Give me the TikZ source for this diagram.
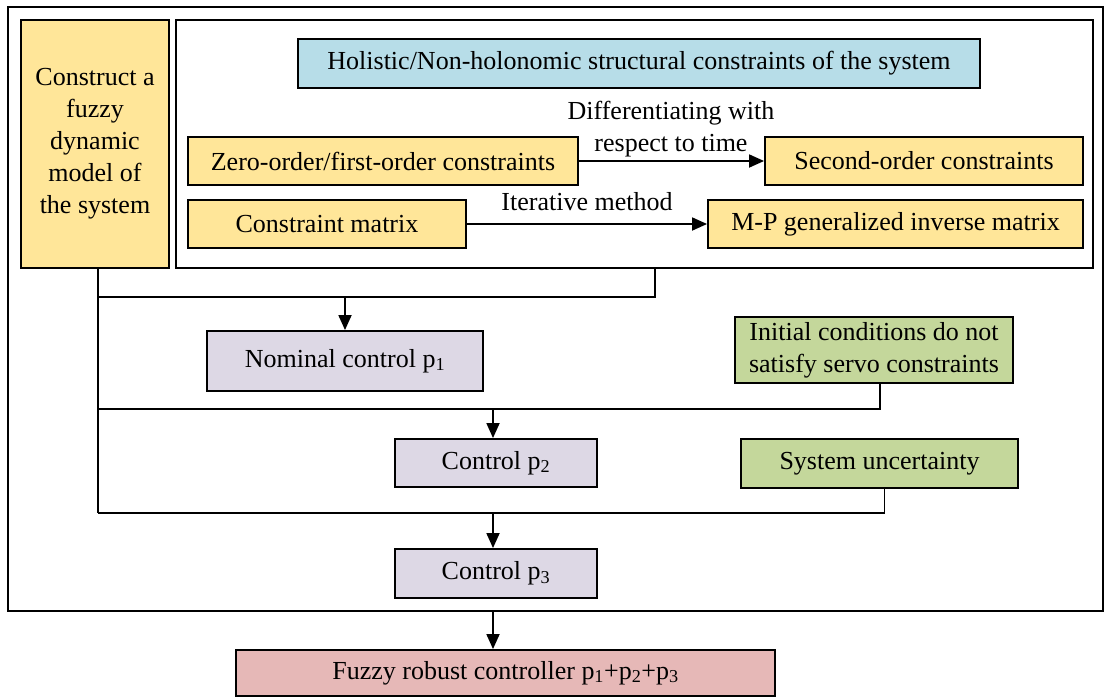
\documentclass[tikz,border=0pt]{standalone}
\usepackage{fontspec}
\setmainfont{Liberation Serif}
\usetikzlibrary{arrows.meta,positioning,calc}
\definecolor{modelcolor}{RGB}{255,230,153}
\definecolor{holocolor}{RGB}{183,221,232}
\definecolor{ctrlcolor}{RGB}{221,216,229}
\definecolor{condcolor}{RGB}{196,215,155}
\definecolor{resultcolor}{RGB}{230,184,183}

\begin{document}
\begin{tikzpicture}[x=1pt,y=-1pt,
    font=\fontsize{26}{32}\selectfont,
    box/.style={draw,line width=1.9pt,inner sep=0pt,align=center},
    frame/.style={draw,line width=2.2pt,inner sep=0pt},
    link/.style={line width=1.8pt},
    arr/.style={link,-{Triangle[length=15pt,width=13pt]}}]
    \useasboundingbox (0,0) rectangle (1105,696);

    % Frames
    \node[frame,minimum width=1095,minimum height=604] (outer) at (555.5,309) {};
    \node[frame,minimum width=917,minimum height=248] (inner) at (634.5,144) {};

    % Model and constraints
    \node[box,fill=modelcolor,minimum width=148,minimum height=248] (model) at (95,144)
        {Construct a\\fuzzy\\dynamic\\model of\\the system};
    \node[box,fill=holocolor,minimum width=682,minimum height=49] (holo) at (639,63.5)
        {Holistic/Non-holonomic structural constraints of the system};
    \node[box,fill=modelcolor,minimum width=390,minimum height=48] (zero) at (383,161)
        {Zero-order/first-order constraints};
    \node[box,fill=modelcolor,minimum width=318,minimum height=48] (second) at (924,161)
        {Second-order constraints};
    \node[box,fill=modelcolor,minimum width=278,minimum height=48] (cmat) at (327,224)
        {Constraint matrix};
    \node[box,fill=modelcolor,minimum width=375,minimum height=48] (mp) at (895.5,224)
        {M-P generalized inverse matrix};
    \node[align=center] (difflbl) at (671,129) {Differentiating with\\respect to time};
    \node (iterlbl) at (587,202) {Iterative method};
    \draw[arr] (zero) -- (second);
    \draw[arr] (cmat) -- (mp);

    % Control parts
    \node[box,fill=ctrlcolor,minimum width=276,minimum height=60] (nominal) at (345,361)
        {Nominal control p\textsubscript{1}};
    \node[box,fill=condcolor,minimum width=278,minimum height=66] (init) at (874,350)
        {Initial conditions do not\\satisfy servo constraints};
    \node[box,fill=ctrlcolor,minimum width=202,minimum height=48] (ctrltwo) at (496,463)
        {Control p\textsubscript{2}};
    \node[box,fill=condcolor,minimum width=277,minimum height=49] (uncert) at (879.5,463.5)
        {System uncertainty};
    \node[box,fill=ctrlcolor,minimum width=202,minimum height=49] (ctrlthree) at (496,573.5)
        {Control p\textsubscript{3}};
    \node[box,fill=resultcolor,minimum width=539,minimum height=46] (result) at (505.5,673)
        {Fuzzy robust controller p\textsubscript{1}+p\textsubscript{2}+p\textsubscript{3}};

    % Bus lines
    \coordinate (busone) at (98,297);
    \coordinate (bustwo) at (98,409);
    \coordinate (busthree) at (98,513);
    \coordinate (tap) at (655,268);
    \draw[link] ([xshift=3]model.south) -- (busthree);
    \draw[link] (busone) -| (tap);
    \draw[link] (bustwo) -| ([xshift=6]init.south);
    \draw[link] (busthree) -| ([xshift=5]uncert.south);
    \draw[arr] (nominal.north |- busone) -- (nominal.north);
    \draw[arr] ([xshift=-3]ctrltwo.north |- bustwo) -- ([xshift=-3]ctrltwo.north);
    \draw[arr] ([xshift=-3]ctrlthree.north |- busthree) -- ([xshift=-3]ctrlthree.north);
    \draw[arr] ([xshift=-3]ctrlthree.south |- outer.south) -- ([xshift=-3]ctrlthree.south |- result.north);
\end{tikzpicture}
\end{document}
